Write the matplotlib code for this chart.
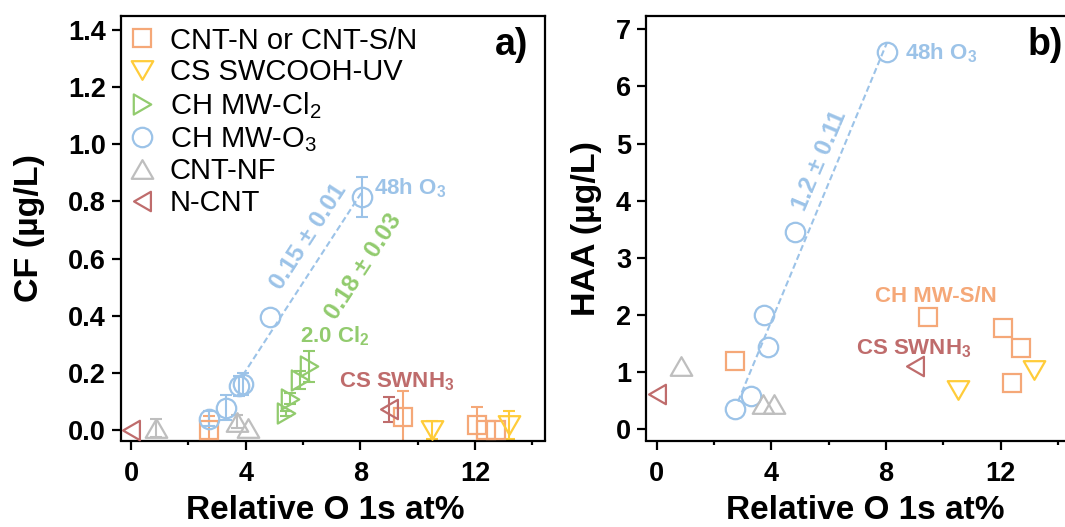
import numpy as np
import matplotlib
matplotlib.use('Agg')
import matplotlib.pyplot as plt
from matplotlib.path import Path

plt.rcParams['font.family'] = ['Liberation Sans', 'DejaVu Sans']
plt.rcParams['mathtext.fontset'] = 'custom'
plt.rcParams['mathtext.rm'] = 'Liberation Sans'
plt.rcParams['mathtext.bf'] = 'Liberation Sans:bold'
plt.rcParams['mathtext.it'] = 'Liberation Sans:italic'

# ---------------- data ----------------
series_labels = ['CNT-N or CNT-S/N', 'CS SWCOOH-UV', r'CH MW-Cl$_\mathrm{2}$',
                 r'CH MW-O$_\mathrm{3}$', 'CNT-NF', 'N-CNT']

cntn_x = [2.73, 9.48, 12.08, 12.39, 12.72]
cntn_cf = [0.0, 0.047, 0.017, 0.0, 0.0]
cntn_cf_err = [0.05, 0.09, 0.064, 0.0, 0.0]
cntn_haa = [1.2, 1.96, 1.78, 0.815, 1.42]

swcooh_x = [10.5, 13.17]
swcooh_cf = [0.0, 0.017]
swcooh_cf_err = [0.03, 0.05]
swcooh_haa = [0.69, 1.03]

cl2_x = [5.42, 5.54, 5.88, 6.21]
cl2_cf = [0.058, 0.11, 0.175, 0.223]
cl2_cf_err = [0.01, 0.02, 0.03, 0.055]

o3_x = [2.72, 3.3, 3.75, 3.9, 4.84, 8.04]
o3_cf = [0.04, 0.078, 0.155, 0.16, 0.396, 0.817]
o3_cf_err = [0.025, 0.043, 0.035, 0.038, 0.0, 0.07]
o3_haa = [0.35, 0.58, 2.0, 1.445, 3.45, 6.6]

nf_x = [0.86, 3.7, 4.09]
nf_cf = [0.006, 0.029, 0.006]
nf_cf_err = [0.032, 0.023, 0.0]
nf_haa = [1.11, 0.44, 0.45]

ncnt_x = [0.0, 9.0]
ncnt_cf = [0.0, 0.072]
ncnt_cf_err = [0.0, 0.045]
ncnt_haa = [0.62, 1.1]

x_ticks = [0, 4, 8, 12]
x_tick_labels = ['0', '4', '8', '12']
x_minor = [2, 6, 10, 14]
cf_ticks = [0.0, 0.2, 0.4, 0.6, 0.8, 1.0, 1.2, 1.4]
cf_tick_labels = ['0.0', '0.2', '0.4', '0.6', '0.8', '1.0', '1.2', '1.4']
haa_ticks = [0, 1, 2, 3, 4, 5, 6, 7]
haa_tick_labels = ['0', '1', '2', '3', '4', '5', '6', '7']

fit_a_text = '0.15 ± 0.01'
fit_a2_text = '0.18 ± 0.03'
fit_b_text = '1.2 ± 0.11'

# ---------------- styles ----------------
C_OR = '#F5A878'
C_YE = '#FFCC3A'
C_GR = '#92CB6E'
C_BL = '#9CC3E8'
C_GY = '#BEBEBE'
C_RD = '#BF6C6C'

def tri(direction):
    v = np.array([[-1, -0.866], [1, -0.866], [0, 0.866], [-1, -0.866]])
    if direction == 'down':
        v = v * [1, -1]
    elif direction == 'right':
        v = v[:, ::-1]
    elif direction == 'left':
        v = -v[:, ::-1]
    return Path(v, [Path.MOVETO, Path.LINETO, Path.LINETO, Path.CLOSEPOLY])

MK = {
    'sq': dict(marker='s', ms=13),
    'dn': dict(marker=tri('down'), ms=15.5),
    'rt': dict(marker=tri('right'), ms=14.5),
    'ci': dict(marker='o', ms=14),
    'up': dict(marker=tri('up'), ms=15.5),
    'lt': dict(marker=tri('left'), ms=14),
}

fig = plt.figure(figsize=(10.65, 5.27), dpi=100)
W, H = 1065.0, 527.0
axA = fig.add_axes([120.5 / W, 1 - 440.5 / H, 424.5 / W, 424.5 / H])
axB = fig.add_axes([645.7 / W, 1 - 440.5 / H, 435.3 / W, 424.5 / H])


def scatter(ax, x, y, color, mk, label=None, err=None):
    if err is not None:
        x_a = np.asarray(x); y_a = np.asarray(y); e_a = np.asarray(err)
        m = e_a > 0
        if m.any():
            ax.errorbar(x_a[m], y_a[m], yerr=e_a[m], fmt='none', ecolor=color,
                        elinewidth=1.5, capsize=4, capthick=1.5, zorder=2)
    ax.plot(x, y, ls='none', mfc='none', mec=color, mew=1.6, label=label,
            zorder=3, **MK[mk])


# ---------- panel a ----------
xa = np.array(o3_x[2:]); ya = np.array(o3_cf[2:])
pa = np.polyfit(xa, ya, 1)
xx = np.array([xa.min() + 0.15, xa.max()])
axA.plot(xx, np.polyval(pa, xx), color=C_BL, lw=1.5, ls=(0, (3, 1.6)), zorder=1)

scatter(axA, cntn_x, cntn_cf, C_OR, 'sq', series_labels[0], cntn_cf_err)
scatter(axA, swcooh_x, swcooh_cf, C_YE, 'dn', series_labels[1], swcooh_cf_err)
scatter(axA, cl2_x, cl2_cf, C_GR, 'rt', series_labels[2], cl2_cf_err)
scatter(axA, o3_x, o3_cf, C_BL, 'ci', series_labels[3], o3_cf_err)
scatter(axA, nf_x, nf_cf, C_GY, 'up', series_labels[4], nf_cf_err)
scatter(axA, ncnt_x, ncnt_cf, C_RD, 'lt', series_labels[5], ncnt_cf_err)

axA.set_xlim(-0.37, 14.44)
axA.set_ylim(-0.037, 1.449)
axA.set_yticks(cf_ticks)
axA.set_yticklabels(cf_tick_labels)

# ---------- panel b ----------
xb = np.array(o3_x); yb = np.array(o3_haa)
pb = np.polyfit(xb, yb, 1)
xx = np.array([xb.min() + 0.12, xb.max()])
axB.plot(xx, np.polyval(pb, xx), color=C_BL, lw=1.5, ls=(0, (3, 1.6)), zorder=1)

scatter(axB, cntn_x, cntn_haa, C_OR, 'sq')
scatter(axB, swcooh_x, swcooh_haa, C_YE, 'dn')
scatter(axB, o3_x, o3_haa, C_BL, 'ci')
scatter(axB, nf_x, nf_haa, C_GY, 'up')
scatter(axB, ncnt_x, ncnt_haa, C_RD, 'lt')

axB.set_xlim(-0.38, 14.8)
axB.set_ylim(-0.196, 7.233)
axB.set_yticks(haa_ticks)
axB.set_yticklabels(haa_tick_labels)

for ax in (axA, axB):
    ax.set_xticks(x_ticks)
    ax.set_xticklabels(x_tick_labels)
    ax.set_xticks(x_minor, minor=True)
    for s in ax.spines.values():
        s.set_linewidth(1.6)
    ax.tick_params(which='major', length=6.5, width=1.6, labelsize=19.5)
    ax.tick_params(which='minor', length=3.2, width=1.6)
    ax.tick_params(axis='x', which='major', pad=8)
    ax.tick_params(axis='y', which='major', pad=4)
    for lab in ax.get_xticklabels() + ax.get_yticklabels():
        lab.set_fontweight('bold')
    ax.set_xlabel('Relative O 1s at%', fontsize=24, fontweight='bold')

axA.xaxis.set_label_coords(0.482, -0.128)
axB.xaxis.set_label_coords(0.505, -0.128)
axA.set_ylabel('CF (µg/L)', fontsize=24.5, fontweight='bold')
axB.set_ylabel('HAA (µg/L)', fontsize=24.5, fontweight='bold')
axA.yaxis.set_label_coords(-0.178, 0.5)
axB.yaxis.set_label_coords(-0.0997, 0.5)

# ---------- annotations ----------
tk = dict(fontsize=16, fontweight='bold')
axA.text(6.18, 0.675, fit_a_text, color=C_BL, rotation=57, ha='center', va='center',
         rotation_mode='anchor', fontsize=17.5, fontweight='bold')
axA.text(8.1, 0.57, fit_a2_text, color=C_GR, rotation=57, ha='center', va='center',
         rotation_mode='anchor', fontsize=17.5, fontweight='bold')
axA.text(8.46, 0.826, r'48h O$_\mathbf{3}$', color=C_BL, ha='left', va='baseline', **tk)
axA.text(5.88, 0.308, r'2.0 Cl$_\mathbf{2}$', color=C_GR, ha='left', va='baseline', **tk)
axA.text(7.26, 0.149, r'CS SWNH$_\mathbf{3}$', color=C_RD, ha='left', va='baseline', **tk)

axB.text(5.70, 4.71, fit_b_text, color=C_BL, rotation=67, ha='center', va='center',
         rotation_mode='anchor', fontsize=17.5, fontweight='bold')
axB.text(8.66, 6.48, r'48h O$_\mathbf{3}$', color=C_BL, ha='left', va='baseline', **tk)
axB.text(7.63, 2.22, 'CH MW-S/N', color=C_OR, ha='left', va='baseline', **tk)
axB.text(6.97, 1.318, r'CS SWNH$_\mathbf{3}$', color=C_RD, ha='left', va='baseline', **tk)

axA.text(0.96, 0.908, 'a)', transform=axA.transAxes, ha='right', va='baseline',
         fontsize=27, fontweight='bold')
axB.text(0.9587, 0.908, 'b)', transform=axB.transAxes, ha='right', va='baseline',
         fontsize=27, fontweight='bold')

leg = axA.legend(loc='upper left', bbox_to_anchor=(0.0165, 0.975), frameon=False,
                 fontsize=21, handlelength=1.0, handletextpad=0.45, borderpad=0,
                 borderaxespad=0, labelspacing=0.13, numpoints=1)

fig.savefig('out.png', dpi=100)
